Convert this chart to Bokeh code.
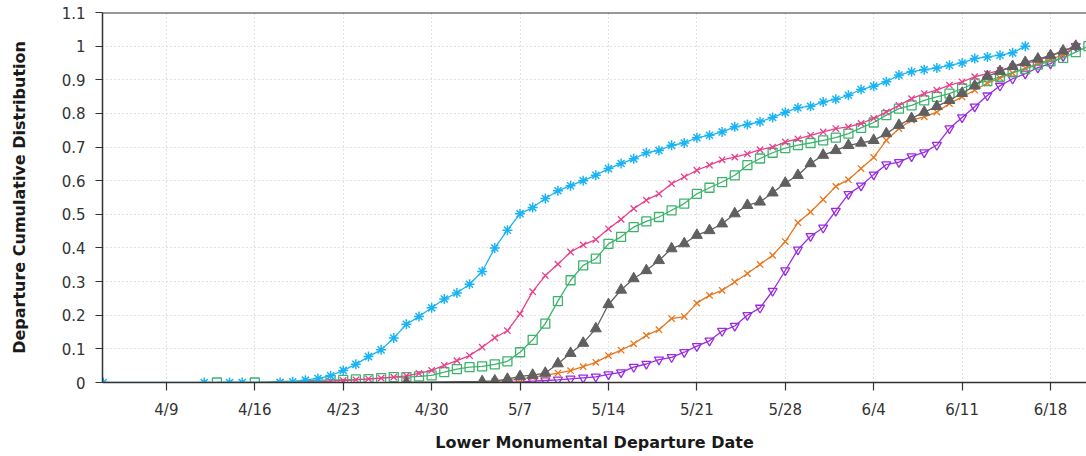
from datetime import datetime, timedelta

from bokeh.embed import file_html
from bokeh.models import FixedTicker, Label, Range1d, Span
from bokeh.plotting import figure
from bokeh.resources import INLINE

YEAR = 2014

# Weekly date ticks on the x axis
x_tick_labels = ["4/9", "4/16", "4/23", "4/30", "5/7", "5/14", "5/21", "5/28", "6/4", "6/11", "6/18"]
y_ticks = [0, 0.1, 0.2, 0.3, 0.4, 0.5, 0.6, 0.7, 0.8, 0.9, 1.0, 1.1]
y_tick_labels = ["0", "0.1", "0.2", "0.3", "0.4", "0.5", "0.6", "0.7", "0.8", "0.9", "1", "1.1"]

# Each series: a few isolated early dates, then a run of consecutive daily values
blue_early_dates = ["4/4", "4/12", "4/14", "4/15", "4/18"]
blue_early_values = [0, 0, 0, 0, 0]
blue_run_start = "4/19"
blue_values = [
    0.002, 0.007, 0.012, 0.02, 0.036, 0.054, 0.077, 0.097, 0.132, 0.173,
    0.196, 0.222, 0.248, 0.266, 0.292, 0.330, 0.400, 0.453, 0.502, 0.520,
    0.547, 0.570, 0.585, 0.600, 0.616, 0.636, 0.651, 0.665, 0.683, 0.690,
    0.705, 0.712, 0.728, 0.735, 0.745, 0.760, 0.767, 0.775, 0.788, 0.803,
    0.817, 0.821, 0.834, 0.842, 0.854, 0.871, 0.881, 0.894, 0.914, 0.924,
    0.930, 0.935, 0.943, 0.950, 0.963, 0.968, 0.973, 0.980, 1.0,
]

pink_early_dates = ["4/18"]
pink_early_values = [0]
pink_run_start = "4/22"
pink_values = [
    0.004, 0.006, 0.008, 0.011, 0.013, 0.016, 0.02, 0.027, 0.036, 0.051,
    0.065, 0.080, 0.105, 0.133, 0.154, 0.204, 0.27, 0.318, 0.352, 0.388,
    0.409, 0.425, 0.457, 0.485, 0.517, 0.542, 0.561, 0.591, 0.611, 0.631,
    0.646, 0.662, 0.670, 0.680, 0.692, 0.700, 0.715, 0.724, 0.735, 0.745,
    0.755, 0.760, 0.770, 0.785, 0.804, 0.824, 0.844, 0.859, 0.869, 0.884,
    0.894, 0.909, 0.918, 0.928, 0.938, 0.948, 0.958, 0.97, 0.985, 1.0,
]

green_early_dates = ["4/13", "4/16"]
green_early_values = [0, 0]
green_run_start = "4/22"
green_values = [
    0.008, 0.008, 0.009, 0.01, 0.013, 0.016, 0.016, 0.018, 0.021, 0.031,
    0.04, 0.046, 0.048, 0.054, 0.063, 0.090, 0.127, 0.175, 0.242, 0.304,
    0.348, 0.368, 0.412, 0.433, 0.462, 0.479, 0.492, 0.512, 0.532, 0.561,
    0.579, 0.596, 0.616, 0.646, 0.666, 0.683, 0.697, 0.706, 0.712, 0.720,
    0.728, 0.740, 0.757, 0.773, 0.795, 0.814, 0.824, 0.839, 0.849, 0.859,
    0.874, 0.889, 0.896, 0.909, 0.922, 0.932, 0.945, 0.955, 0.965, 0.982,
    1.0,
]

gray_early_dates = ["4/28"]
gray_early_values = [0]
gray_run_start = "5/4"
gray_values = [
    0.003, 0.005, 0.01, 0.018, 0.022, 0.028, 0.056, 0.087, 0.117, 0.16,
    0.232, 0.275, 0.309, 0.333, 0.363, 0.398, 0.413, 0.438, 0.452, 0.472,
    0.502, 0.527, 0.537, 0.564, 0.593, 0.616, 0.651, 0.676, 0.690, 0.705,
    0.712, 0.720, 0.740, 0.765, 0.785, 0.804, 0.821, 0.839, 0.86, 0.882,
    0.91, 0.925, 0.94, 0.952, 0.962, 0.972, 0.986, 1.0,
]

orange_early_dates = []
orange_early_values = []
orange_run_start = "5/5"
orange_values = [
    0.003, 0.006, 0.01, 0.016, 0.021, 0.028, 0.035, 0.047, 0.06, 0.08,
    0.096, 0.115, 0.140, 0.157, 0.190, 0.196, 0.236, 0.259, 0.274, 0.299,
    0.324, 0.351, 0.378, 0.419, 0.475, 0.507, 0.544, 0.583, 0.603, 0.636,
    0.669, 0.720, 0.755, 0.780, 0.790, 0.804, 0.829, 0.849, 0.869, 0.89,
    0.905, 0.92, 0.935, 0.948, 0.96, 0.975, 1.0,
]

purple_early_dates = []
purple_early_values = []
purple_run_start = "5/6"
purple_values = [
    0.0, 0.002, 0.004, 0.006, 0.008, 0.011, 0.014, 0.017, 0.024, 0.030,
    0.046, 0.055, 0.068, 0.075, 0.090, 0.108, 0.124, 0.153, 0.168, 0.200,
    0.222, 0.272, 0.333, 0.395, 0.435, 0.460, 0.510, 0.560, 0.585, 0.618,
    0.648, 0.655, 0.672, 0.684, 0.706, 0.755, 0.788, 0.82, 0.853, 0.882,
    0.903, 0.918, 0.936, 0.948, 0.97, 1.0,
]


def md(s):
    m, d = s.split("/")
    return datetime(YEAR, int(m), int(d))


def series(early_dates, early_values, run_start, run_values):
    xs = [md(s) for s in early_dates]
    start = md(run_start)
    xs += [start + timedelta(days=i) for i in range(len(run_values))]
    return xs, list(early_values) + list(run_values)


def ms(dt):
    return (dt - datetime(1970, 1, 1)).total_seconds() * 1000.0


FONT = "DejaVu Sans"
DAY = 86400000.0

x_start = ms(md("4/4")) - 0.06 * DAY
x_end = ms(md("4/4")) + 77.85 * DAY

p = figure(
    width=1086, height=456,
    x_axis_type="datetime",
    x_range=Range1d(x_start, x_end),
    y_range=Range1d(0, 1.1),
    output_backend="svg",
    toolbar_location=None,
    min_border_left=102, min_border_right=0,
    min_border_top=12, min_border_bottom=74,
)
p.background_fill_color = "white"
p.border_fill_color = "white"
p.outline_line_color = None

# Axes
p.xaxis.ticker = FixedTicker(ticks=[ms(md(s)) for s in x_tick_labels])
p.xaxis.major_label_overrides = {ms(md(s)): s for s in x_tick_labels}
p.yaxis.ticker = FixedTicker(ticks=y_ticks)
p.yaxis.major_label_overrides = {t: lab for t, lab in zip(y_ticks, y_tick_labels)}

for ax in (p.xaxis[0], p.yaxis[0]):
    ax.axis_line_color = "#333333"
    ax.axis_line_width = 1.5
    ax.major_tick_line_color = "#333333"
    ax.major_tick_line_width = 1.2
    ax.major_tick_in = 0
    ax.minor_tick_line_color = None
    ax.major_label_text_font = FONT
    ax.major_label_text_font_size = "15px"
    ax.major_label_text_color = "#333333"
    ax.axis_label_text_font = FONT
    ax.axis_label_text_font_size = "16px"
    ax.axis_label_text_font_style = "bold"
    ax.axis_label_text_color = "#1a1a1a"

p.xaxis.major_tick_out = 8
p.yaxis.major_tick_out = 7
p.xaxis.major_label_standoff = 10
p.yaxis.major_label_standoff = 10
p.xaxis.axis_label = "Lower Monumental Departure Date"
p.yaxis.axis_label = "Departure Cumulative Distribution"
p.xaxis.axis_label_standoff = 11
p.yaxis.axis_label_standoff = 30

# Dotted grid
for g in (p.xgrid[0], p.ygrid[0]):
    g.grid_line_color = "#c4c4c4"
    g.grid_line_dash = "1 3"
    g.grid_line_width = 1

# Top frame line
p.add_layout(Span(location=1.1, dimension="width", line_color="#333333", line_width=2))

# Top tick label of the next panel, kept just inside the bottom edge
p.add_layout(Label(x=-20, y=-72, x_units="screen", y_units="screen", text="1.1",
                   text_align="right", text_baseline="bottom", text_font=FONT,
                   text_font_size="12px", text_color="#333333"))

BLUE = "#1ab4f2"
PINK = "#e8408c"
GREEN = "#3db46d"
GRAY = "#606060"
ORANGE = "#e8761e"
PURPLE = "#9b2be0"

styles = [
    (purple_early_dates, purple_early_values, purple_run_start, purple_values, PURPLE,
     dict(marker="inverted_triangle", size=9, fill_color=None, line_width=1.3)),
    (orange_early_dates, orange_early_values, orange_run_start, orange_values, ORANGE,
     dict(marker="x", size=9, line_width=1.3)),
    (green_early_dates, green_early_values, green_run_start, green_values, GREEN,
     dict(marker="square", size=9, fill_color=None, line_width=1.3)),
    (pink_early_dates, pink_early_values, pink_run_start, pink_values, PINK,
     dict(marker="x", size=9, line_width=1.3)),
    (blue_early_dates, blue_early_values, blue_run_start, blue_values, BLUE,
     dict(marker="asterisk", size=10, line_width=1.5)),
    (gray_early_dates, gray_early_values, gray_run_start, gray_values, GRAY,
     dict(marker="triangle", size=11, fill_color=GRAY, line_width=1)),
]

for ed, ev, rs, rv, color, mk in styles:
    xs, ys = series(ed, ev, rs, rv)
    p.line(xs, ys, line_color=color, line_width=1.3)
    kw = dict(mk)
    kw.setdefault("fill_color", color)
    p.scatter(xs, ys, line_color=color, **kw)

open("out.html", "w").write(file_html(p, INLINE))
